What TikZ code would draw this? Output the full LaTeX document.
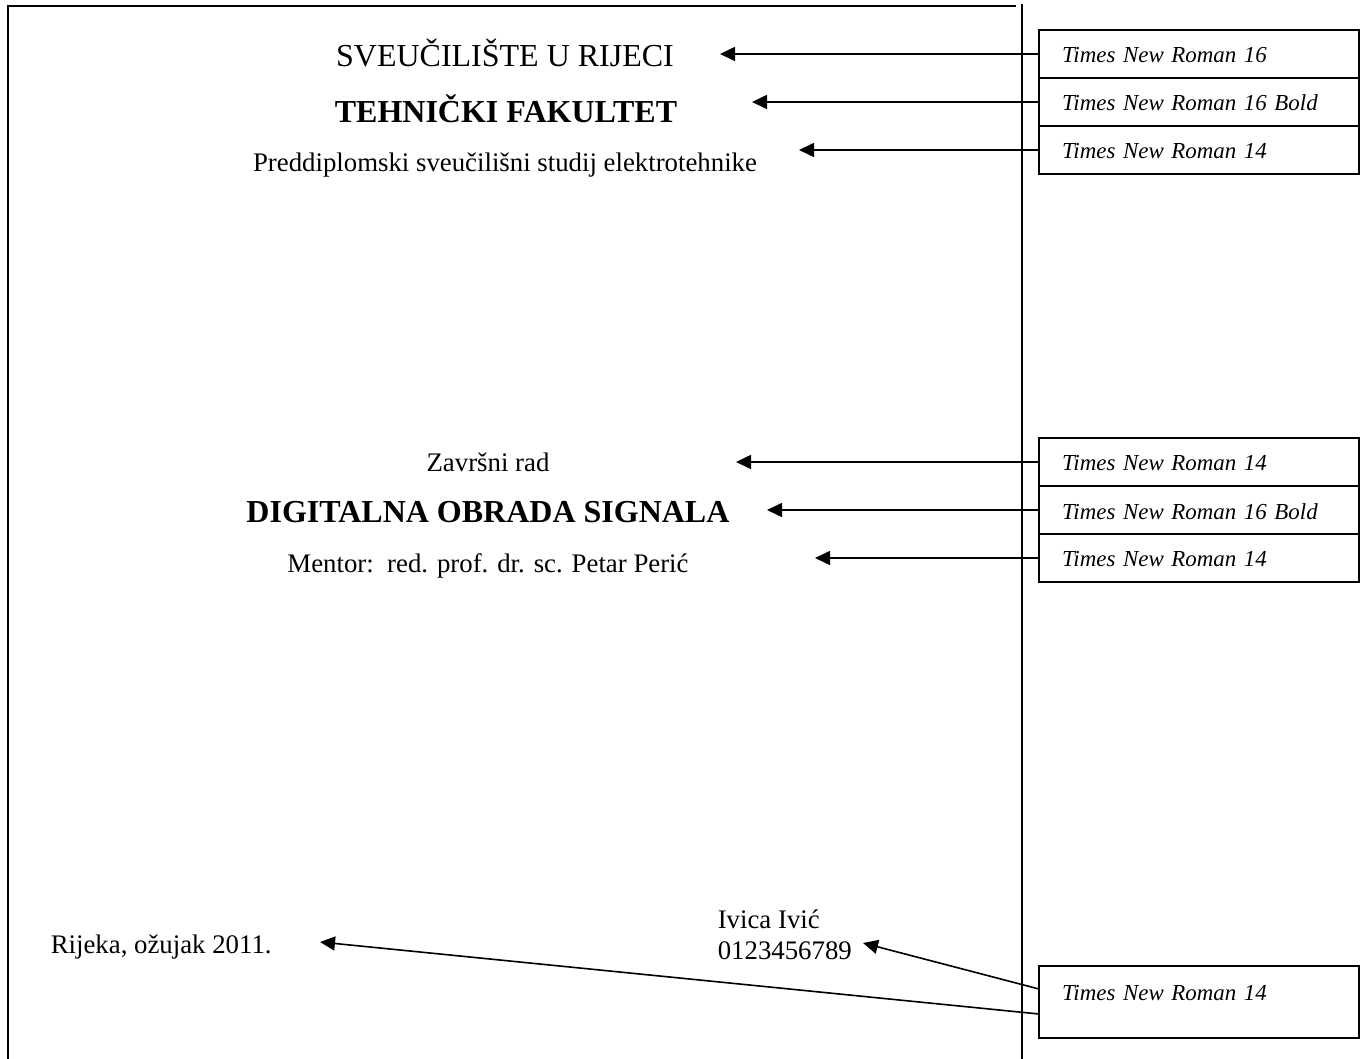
\documentclass[tikz,border=0pt]{standalone}
\usepackage{fontspec}
\setmainfont{Liberation Serif}
\usetikzlibrary{arrows.meta}

\begin{document}
\begin{tikzpicture}[x=0.5pt,y=-0.5pt,>={Triangle[length=7.5pt,width=7pt]},line width=0.8pt,
  sz16/.style={font=\fontsize{16}{19}\selectfont,anchor=base,inner sep=0pt},
  sz16b/.style={font=\fontsize{16}{19}\selectfont\bfseries,anchor=base,inner sep=0pt},
  sz14/.style={font=\fontsize{13.4}{16}\selectfont,anchor=base,inner sep=0pt},
  fontbox/.style={draw,line width=1pt,anchor=north west,outer sep=0pt,font=\fontsize{11.45}{14}\selectfont\itshape,
    inner xsep=11.5pt,inner ysep=0pt,text width=137pt,text height=16.5pt,text depth=7.5pt}]

\useasboundingbox (0,0) rectangle (1367,1059);

\draw[line width=1pt] (1016,6) -- (8,6) -- (8,1059);
\draw[line width=1pt] (1022,4) -- (1022,1059);

\node[sz16] (uni) at (505,67) {SVEUČILIŠTE U RIJECI};
\node[sz16b] (fac) at (506,123) {TEHNIČKI FAKULTET};
\node[sz14] (study) at (505,172) {Preddiplomski sveučilišni studij elektrotehnike};

\node[sz14] (kind) at (488,472) {Završni rad};
\node[sz16b] (title) at (488,523) {DIGITALNA OBRADA SIGNALA};
\node[sz14] (mentor) at (488,572) {Mentor:\ \ red. prof. dr. sc. Petar Perić};

\node[sz14,anchor=base west] (place) at (50,953) {Rijeka, ožujak 2011.};
\node[sz14,anchor=base west] (name) at (717,928) {Ivica Ivić};
\node[sz14,anchor=base west] (id) at (717,959) {0123456789};

\node[fontbox] (f1) at (1039,30) {Times New Roman 16};
\node[fontbox] (f2) at (1039,78) {Times New Roman 16 Bold};
\node[fontbox] (f3) at (1039,126) {Times New Roman 14};
\node[fontbox] (f4) at (1039,438) {Times New Roman 14};
\node[fontbox] (f5) at (1039,486) {Times New Roman 16 Bold};
\node[fontbox] (f6) at (1039,534) {Times New Roman 14};
\node[fontbox,text height=17pt,text depth=19pt] (f7) at (1039,966) {Times New Roman 14};

\coordinate (t1) at (720,54);
\coordinate (t2) at (752,102);
\coordinate (t3) at (799,150);
\coordinate (t4) at (736,462);
\coordinate (t5) at (767,510);
\coordinate (t6) at (815,558);
\coordinate (t7) at (863,943);
\coordinate (t8) at (320,942);

\draw[->] (f1.west) -- (t1);
\draw[->] (f2.west) -- (t2);
\draw[->] (f3.west) -- (t3);
\draw[->] (f4.west) -- (t4);
\draw[->] (f5.west) -- (t5);
\draw[->] (f6.west) -- (t6);
\draw[->] ([yshift=6.5pt]f7.west) -- (t7);
\draw[->] ([yshift=-6pt]f7.west) -- (t8);

\end{tikzpicture}
\end{document}
